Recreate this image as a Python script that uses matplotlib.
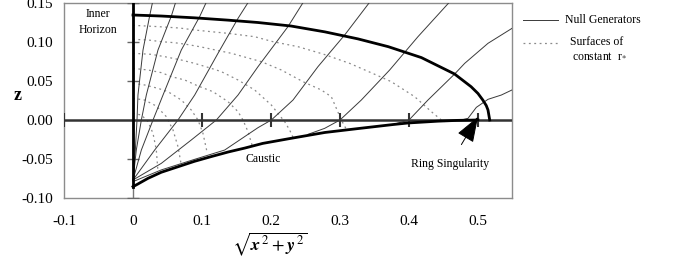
import matplotlib
matplotlib.use("Agg")
import matplotlib.pyplot as plt
from matplotlib.lines import Line2D

plt.rcParams['font.family'] = ['Liberation Serif', 'DejaVu Serif']
plt.rcParams['mathtext.fontset'] = 'stix'

# outer horizon (thick)
horizon_x = [0.0, 0.041, 0.089, 0.138, 0.181, 0.229, 0.278, 0.326, 0.370, 0.418,
             0.466, 0.490, 0.500, 0.507, 0.512, 0.5145, 0.517]
horizon_z = [0.1346, 0.1333, 0.131, 0.128, 0.125, 0.1205, 0.113, 0.104, 0.094, 0.080,
             0.059, 0.0427, 0.034, 0.0256, 0.0185, 0.0128, 0.0]

# caustic (thick)
caustic_x = [0.0, 0.0072, 0.0217, 0.041, 0.065, 0.089, 0.113, 0.138, 0.162, 0.188,
             0.229, 0.278, 0.326, 0.377, 0.399, 0.442, 0.47, 0.5]
caustic_z = [-0.0855, -0.082, -0.0748, -0.067, -0.060, -0.053, -0.047, -0.041, -0.036, -0.030,
             -0.0235, -0.016, -0.011, -0.0058, -0.0038, -0.0015, -0.0005, 0.0]

# null generators
gen_x = [
    [0.0, 0.0034, 0.0058, 0.0072, 0.0145, 0.0242, 0.029],
    [0.0, 0.0048, 0.0121, 0.0193, 0.0362, 0.0556, 0.0628],
    [0.0, 0.0121, 0.029, 0.0435, 0.070, 0.0966, 0.1077],
    [0.0, 0.0314, 0.0652, 0.0894, 0.1232, 0.1522, 0.1691],
    [0.0, 0.041, 0.0845, 0.1208, 0.1522, 0.1812, 0.2246, 0.2488],
    [0.0, 0.041, 0.0894, 0.1329, 0.1812, 0.2005, 0.2319, 0.2681, 0.3068, 0.3454],
    [0.2536, 0.2778, 0.30, 0.3309, 0.3720, 0.4130, 0.4614],
    [0.3792, 0.40, 0.4275, 0.4662, 0.4807, 0.5145, 0.5493],
    [0.4758, 0.4855, 0.4976, 0.5145, 0.5338, 0.5493],
]
gen_z = [
    [-0.0769, -0.0385, 0.0, 0.032, 0.0897, 0.1338, 0.1538],
    [-0.0769, -0.0385, 0.0, 0.032, 0.0897, 0.1333, 0.1538],
    [-0.0769, -0.0385, 0.0, 0.032, 0.0897, 0.1325, 0.1538],
    [-0.0769, -0.0385, 0.0, 0.032, 0.0855, 0.1303, 0.1538],
    [-0.0769, -0.0556, -0.0256, 0.0, 0.032, 0.0684, 0.1197, 0.1538],
    [-0.079, -0.064, -0.0504, -0.0385, -0.0098, 0.0, 0.0256, 0.0684, 0.109, 0.1538],
    [-0.0184, -0.0107, 0.0, 0.0256, 0.0641, 0.1068, 0.1538],
    [-0.0051, 0.0, 0.0256, 0.059, 0.0726, 0.0983, 0.1175],
    [0.0, 0.0021, 0.0162, 0.0265, 0.032, 0.0385],
]

# surfaces of constant r*
rstar_x = [
    [0.0, 0.0362, 0.0676, 0.0894, 0.1135, 0.1377, 0.1763, 0.2029, 0.2391, 0.2754,
     0.314, 0.3527, 0.3744, 0.4082, 0.4324, 0.4469, 0.4517],
    [0.0, 0.0217, 0.0411, 0.0604, 0.0773, 0.0966, 0.1425, 0.186, 0.215, 0.2464,
     0.2729, 0.2874, 0.2947, 0.3019, 0.3092],
    [0.0, 0.0266, 0.0459, 0.070, 0.0894, 0.1135, 0.128, 0.1522, 0.1763, 0.2005,
     0.2101, 0.2198, 0.227, 0.2319],
    [0.0, 0.0217, 0.0411, 0.0556, 0.0749, 0.0942, 0.1159, 0.1377, 0.1522, 0.1594,
     0.1667, 0.1725],
    [0.0, 0.0169, 0.0362, 0.0507, 0.070, 0.0845, 0.0942, 0.1014, 0.1077],
    [0.0, 0.0169, 0.0338, 0.0483, 0.058, 0.0652, 0.070],
    [0.0, 0.0121, 0.0217, 0.029, 0.0338, 0.0362],
]
rstar_z = [
    [0.1214, 0.1197, 0.1179, 0.1154, 0.1132, 0.1111, 0.1068, 0.1004, 0.094, 0.0846,
     0.0726, 0.0577, 0.0491, 0.0299, 0.0107, 0.0, -0.002],
    [0.1034, 0.1026, 0.1004, 0.0991, 0.097, 0.094, 0.0855, 0.0748, 0.0641, 0.0491,
     0.0385, 0.0299, 0.015, 0.0, -0.012],
    [0.0855, 0.0842, 0.0812, 0.0769, 0.0726, 0.0662, 0.062, 0.0513, 0.0385, 0.0192,
     0.0085, -0.0021, -0.0128, -0.0222],
    [0.0662, 0.0641, 0.0607, 0.0556, 0.0513, 0.0436, 0.0363, 0.0235, 0.0107, 0.0,
     -0.015, -0.032],
    [0.047, 0.0449, 0.0406, 0.0363, 0.0256, 0.0128, 0.0, -0.0171, -0.0427],
    [0.0278, 0.0256, 0.0179, 0.0043, -0.0128, -0.0342, -0.0577],
    [0.0085, 0.0064, -0.0021, -0.0171, -0.0385, -0.0662],
]

x_ticks = [-0.1, 0.0, 0.1, 0.2, 0.3, 0.4, 0.5]
x_tick_labels = ['-0.1', '0', '0.1', '0.2', '0.3', '0.4', '0.5']
z_ticks = [-0.10, -0.05, 0.0, 0.05, 0.10, 0.15]
z_tick_labels = ['-0.10', '-0.05', '0.00', '0.05', '0.10', '0.15']

W, H = 692, 277
fig = plt.figure(figsize=(W / 100, H / 100), dpi=100)
ax = fig.add_axes([64 / W, 1 - 198 / H, 448 / W, 195 / H])
ax.set_xlim(-0.1, 0.5493)
ax.set_ylim(-0.1, 0.15)

for s in ax.spines.values():
    s.set_color('#8c8c8c')
    s.set_linewidth(1.0)

ax.set_xticks(x_ticks)
ax.set_xticklabels(x_tick_labels)
ax.set_yticks(z_ticks)
ax.set_yticklabels(z_tick_labels)
ax.tick_params(length=0, labelsize=11)
ax.tick_params(axis='x', pad=12)
ax.tick_params(axis='y', pad=8)

# axes through the origin
ax.plot([0, 0], [-0.1, 0.15], color='#777777', lw=1.0, zorder=2)
ax.axhline(0, color='#333333', lw=1.8, zorder=3)
ax.plot(x_ticks[:1] + x_ticks[2:], [0] * 6, ls='none', marker='|', ms=10, mew=1.5,
        color='#333333', zorder=3)
ax.plot([0] * 5, [-0.10, -0.05, 0.05, 0.10, 0.15], ls='none', marker='_', ms=9, mew=1.0,
        color='#666666', zorder=3)

# constant r* surfaces
for xs, zs in zip(rstar_x, rstar_z):
    ax.plot(xs, zs, color='#8a8a8a', lw=0.9, ls=(0, (1.5, 2.8)), zorder=2)

# null generators
for xs, zs in zip(gen_x, gen_z):
    ax.plot(xs, zs, color='#3a3a3a', lw=0.7, zorder=4)

# inner horizon, outer horizon and caustic
ax.plot([0, 0], [caustic_z[0], 0.15], color='black', lw=2.0, zorder=5)
ax.plot(horizon_x, horizon_z, color='black', lw=2.0, zorder=5)
ax.plot(caustic_x, caustic_z, color='black', lw=2.0, zorder=5)

ax.text(-0.051, 0.1256, 'Inner\nHorizon', ha='center', va='center', fontsize=8.5,
        linespacing=1.35)
ax.text(0.188, -0.05, 'Caustic', ha='center', va='center', fontsize=8.5)
ax.annotate('Ring Singularity', xy=(0.5, 0.004), xytext=(0.459, -0.0565),
            ha='center', va='center', fontsize=8.5,
            arrowprops=dict(arrowstyle='-|>,head_length=1.0,head_width=0.36',
                            mutation_scale=16, color='black', lw=0.7,
                            shrinkA=9, shrinkB=0))

fig.text(18 / W, 1 - 95 / H, 'z', fontsize=13, fontweight='bold', ha='center', va='center')
fig.text(270 / W, 1 - 244 / H, r'$\sqrt{\mathbfit{x}^{\,2}+\mathbfit{y}^{\,2}}$',
         fontsize=13, ha='center', va='center')

# legend, drawn outside the plot area
fig.add_artist(Line2D([523 / W, 558 / W], [1 - 20 / H, 1 - 20 / H], color='#3a3a3a', lw=0.7,
                      transform=fig.transFigure))
fig.add_artist(Line2D([523 / W, 558 / W], [1 - 43 / H, 1 - 43 / H], color='#8a8a8a', lw=0.9,
                      ls=(0, (1.5, 2.8)), transform=fig.transFigure))
fig.text(565 / W, 1 - 20 / H, 'Null Generators', fontsize=8.5, va='center')
fig.text(570 / W, 1 - 42 / H, 'Surfaces of', fontsize=8.5, va='center')
fig.text(572 / W, 1 - 56 / H, r'constant  r$_{*}$', fontsize=8.5, va='center')

fig.savefig('out.png', dpi=100)
